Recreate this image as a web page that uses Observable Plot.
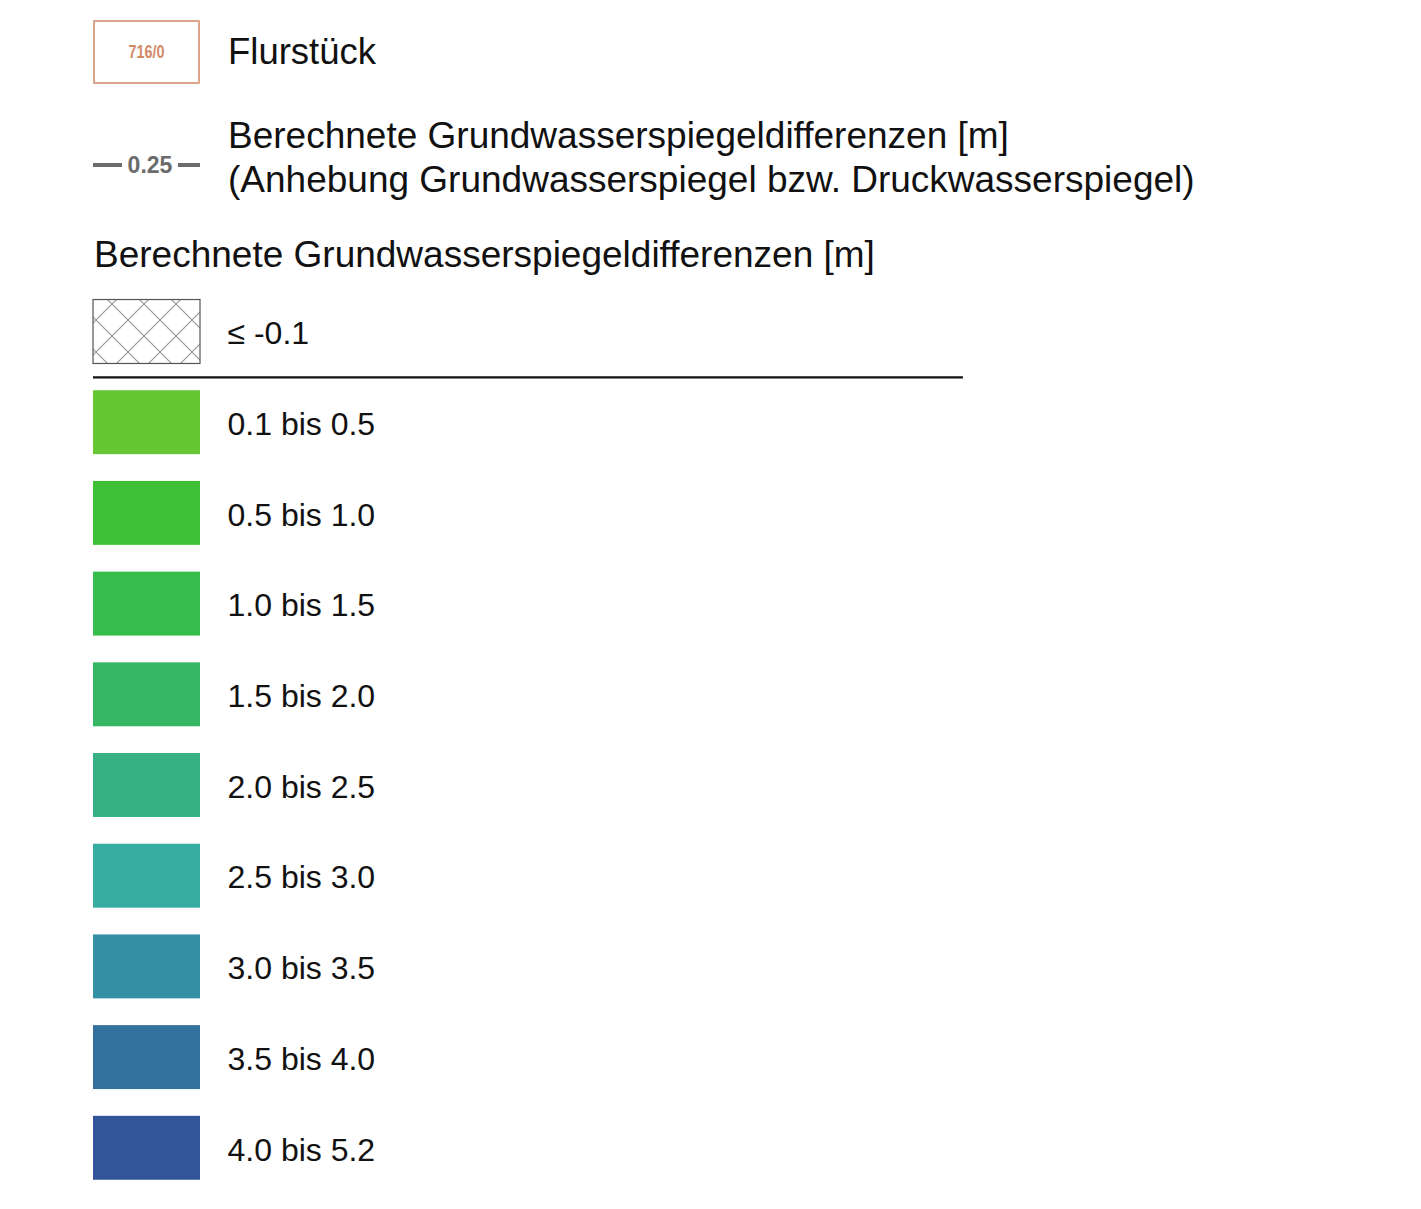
<!DOCTYPE html>
<html>
<head>
<meta charset="utf-8">
<script src="https://cdn.jsdelivr.net/npm/d3@7"></script>
<script src="https://cdn.jsdelivr.net/npm/@observablehq/plot@0.6"></script>
<style>
  html, body { margin: 0; padding: 0; background: #fff; }
  body { width: 1421px; height: 1209px; overflow: hidden; font-family: "Liberation Sans", Arial, sans-serif; color: #111; }
  #header { position: relative; height: 285px; }
  .abs { position: absolute; white-space: nowrap; }
  #parcel { left: 93px; top: 20px; width: 107px; height: 64px; box-sizing: border-box; border: 2px solid #dda68a;
            display: flex; align-items: center; justify-content: center;
            font: bold 18px "Liberation Sans", Arial, sans-serif; color: #d28b68; }
  #parcel span { display: inline-block; transform: scaleX(0.8); }
  #iso { left: 93px; top: 153px; height: 24px; width: 107px; display: flex; align-items: center; justify-content: space-between; }
  #iso .seg { display: block; height: 3.5px; background: #6b6b6b; }
  #iso .lab { font: bold 23px "Liberation Sans", Arial, sans-serif; color: #6b6b6b; line-height: 24px; }
  .big { font-size: 36.5px; line-height: 1; }
  #chart svg { display: block; }
</style>
</head>
<body>
<div id="header"></div>
<div id="chart"></div>
<script>
// ---- legend content ----
const parcelLabel = "716/0";
const parcelText = "Flurstück";
const isoLabel = "0.25";
const isoText = ["Berechnete Grundwasserspiegeldifferenzen [m]", "(Anhebung Grundwasserspiegel bzw. Druckwasserspiegel)"];
const legendTitle = "Berechnete Grundwasserspiegeldifferenzen [m]";

const classLabels = ["≤ -0.1", "0.1 bis 0.5", "0.5 bis 1.0", "1.0 bis 1.5", "1.5 bis 2.0", "2.0 bis 2.5", "2.5 bis 3.0", "3.0 bis 3.5", "3.5 bis 4.0", "4.0 bis 5.2"];
const classFills = ["url(#hatch)", "#66c633", "#3ec034", "#37bd4b", "#36b766", "#37b086", "#37aca1", "#3490a5", "#33729e", "#33549b"];

// ---- HTML header part ----
const headerEl = document.getElementById("header");
headerEl.innerHTML = `
  <div id="parcel" class="abs"><span>${parcelLabel}</span></div>
  <div class="abs big" style="left:228px; top:34px">${parcelText}</div>
  <div id="iso" class="abs"><span class="seg" style="width:29px"></span><span class="lab">${isoLabel}</span><span class="seg" style="width:22px"></span></div>
  <div class="abs" style="left:228px; top:114px; font-size:37px; line-height:44px">${isoText[0]}<br>${isoText[1]}</div>
  <div class="abs" style="left:94px; top:236px; font-size:37px; line-height:1">${legendTitle}</div>
`;

// ---- Plot part ----
const rows = classLabels.map((label, i) => ({label, i}));

const defs = () => {
  const d = d3.create("svg:defs");
  const p = d.append("pattern")
    .attr("id", "hatch")
    .attr("patternUnits", "userSpaceOnUse")
    .attr("x", 112).attr("y", 19)
    .attr("width", 32).attr("height", 32);
  p.append("rect").attr("width", 32).attr("height", 32).attr("fill", "#fff");
  p.append("path").attr("d", "M-1,-1L33,33M33,-1L-1,33")
    .attr("stroke", "#9a9a9a").attr("stroke-width", 1.2).attr("fill", "none");
  return d.node();
};

const chart = Plot.plot({
  width: 1421,
  height: 924,
  marginLeft: 93,
  marginRight: 1221,
  marginTop: 1.15,
  marginBottom: 15.85,
  style: { fontFamily: "'Liberation Sans', Arial, sans-serif", background: "#fff", color: "#111" },
  x: { domain: [0, 1], axis: null },
  y: { type: "band", domain: classLabels, paddingInner: 0.295, paddingOuter: 0.1475, round: false, axis: null },
  color: { type: "ordinal", domain: classLabels, range: classFills },
  marks: [
    defs,
    Plot.barX(rows.filter(d => d.i === 0), { x1: 0, x2: 1, y: "label", fill: "label", stroke: "#555", strokeWidth: 1.2 }),
    Plot.barX(rows.filter(d => d.i > 0), { x1: 0, x2: 1, y: "label", fill: "label" }),
    Plot.text(rows, { x: 1, y: "label", text: "label", textAnchor: "start", dx: 27, dy: 2, fontSize: 32, fill: "#111" }),
    Plot.ruleY([classLabels[1]], { x1: 0, x2: 8.13, dy: -45.35, stroke: "#111", strokeWidth: 2.2 })
  ]
});
document.getElementById("chart").appendChild(chart);
</script>
</body>
</html>
